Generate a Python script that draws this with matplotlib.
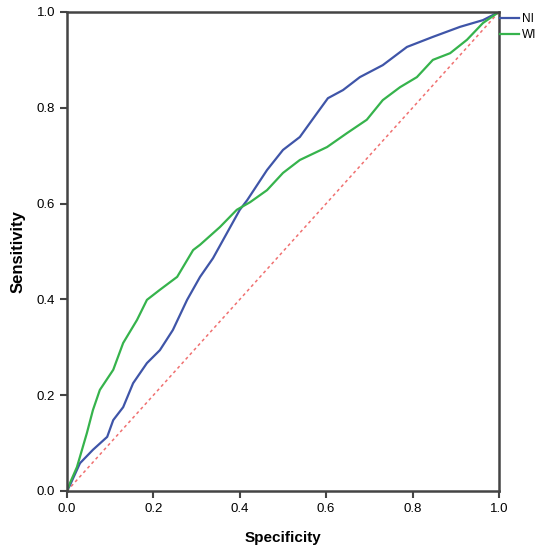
import matplotlib
matplotlib.use("Agg")
import matplotlib.pyplot as plt

plt.rcParams['font.family'] = ['Liberation Sans', 'DejaVu Sans']

# ROC curve points (x = 1 - specificity axis labelled "Specificity")
ni_x = [0.0, 0.007, 0.03, 0.06, 0.093, 0.107, 0.13, 0.153, 0.185, 0.215, 0.245, 0.278,
        0.308, 0.338, 0.40, 0.417, 0.463, 0.50, 0.539, 0.579, 0.604, 0.639, 0.678,
        0.731, 0.787, 0.847, 0.91, 0.963, 1.0]
ni_y = [0.0, 0.0125, 0.058, 0.086, 0.113, 0.148, 0.175, 0.225, 0.267, 0.294, 0.336, 0.399,
        0.447, 0.486, 0.587, 0.607, 0.670, 0.712, 0.739, 0.789, 0.820, 0.837, 0.864,
        0.889, 0.927, 0.948, 0.969, 0.983, 1.0]

wi_x = [0.0, 0.007, 0.023, 0.046, 0.06, 0.076, 0.107, 0.13, 0.162, 0.185, 0.215, 0.255,
        0.292, 0.308, 0.354, 0.393, 0.424, 0.463, 0.50, 0.539, 0.602, 0.648, 0.694,
        0.731, 0.771, 0.81, 0.847, 0.887, 0.926, 0.963, 1.0]
wi_y = [0.0, 0.017, 0.05, 0.121, 0.169, 0.211, 0.253, 0.309, 0.357, 0.399, 0.42, 0.447,
        0.503, 0.514, 0.551, 0.587, 0.603, 0.628, 0.664, 0.691, 0.718, 0.747, 0.775,
        0.816, 0.843, 0.864, 0.90, 0.914, 0.942, 0.977, 1.0]

ref = [0.0, 1.0]
ticks = [0.0, 0.2, 0.4, 0.6, 0.8, 1.0]

fig = plt.figure(figsize=(5.44, 5.47), dpi=100)
ax = fig.add_axes([0.1232, 0.1024, 0.794, 0.8757])

ax.plot(ref, ref, color='#f07070', linestyle=(0, (2, 2)), linewidth=1.1)
ax.plot(ni_x, ni_y, color='#3f55a8', linewidth=1.6, label='NI')
ax.plot(wi_x, wi_y, color='#36b34c', linewidth=1.6, label='WI')

ax.set_xlim(0, 1)
ax.set_ylim(0, 1)
ax.set_xticks(ticks)
ax.set_yticks(ticks)
ax.set_xticklabels([f"{t:.1f}" for t in ticks], fontsize=9.5)
ax.set_yticklabels([f"{t:.1f}" for t in ticks], fontsize=9.5)
ax.tick_params(direction='out', length=5, width=1.5, color='#444444')
for s in ax.spines.values():
    s.set_color('#444444')
    s.set_linewidth(1.8)

ax.set_xlabel('Specificity', fontsize=11, fontweight='bold', labelpad=12)
ax.set_ylabel('Sensitivity', fontsize=12, fontweight='bold', labelpad=8)

ax.legend(loc='upper left', bbox_to_anchor=(1.003, 0.997), frameon=False,
          fontsize=8.5, handlelength=1.6, handletextpad=0.2, borderaxespad=0,
          borderpad=0, labelspacing=0.3)

fig.savefig('out.png', dpi=100)
